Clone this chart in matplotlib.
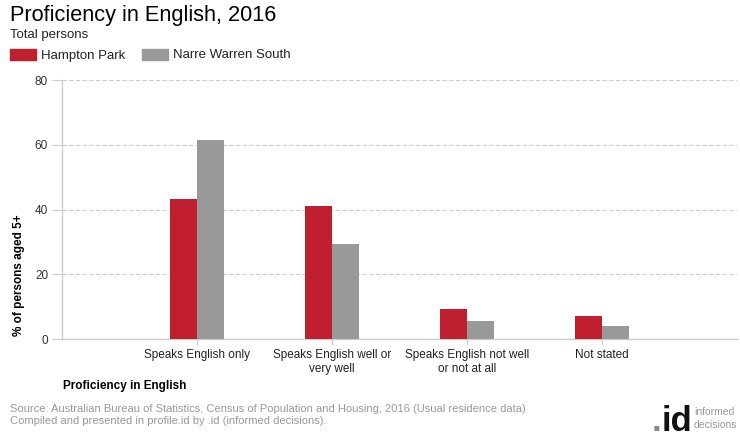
import matplotlib
matplotlib.use("Agg")
import matplotlib.pyplot as plt
import numpy as np

plt.rcParams['font.family'] = ['Liberation Sans', 'DejaVu Sans']

# data
categories = ["Speaks English only", "Speaks English well or\nvery well",
              "Speaks English not well\nor not at all", "Not stated"]
hampton_park = [43.2, 41.1, 9.3, 7.1]
narre_warren_south = [61.5, 29.3, 5.6, 4.0]
series_names = ["Hampton Park", "Narre Warren South"]
yticks = [0, 20, 40, 60, 80]

red = "#c01f30"
grey = "#999999"
axis_col = "#cccccc"

fig = plt.figure(figsize=(7.4, 4.4), dpi=100)
ax = fig.add_axes([62 / 740, 1 - 339 / 440, 675 / 740, 259 / 440])

x = np.arange(1, len(categories) + 1)
w = 0.2
ax.bar(x - w / 2, hampton_park, w, color=red, zorder=3)
ax.bar(x + w / 2, narre_warren_south, w, color=grey, zorder=3)

ax.set_xlim(0, 5)
ax.set_ylim(0, 80)
ax.set_yticks(yticks)
ax.set_xticks(x)
ax.set_xticklabels(categories, fontsize=8.5, color="#222222", linespacing=1.3)
ax.tick_params(axis='y', labelsize=8.5, labelcolor="#333333", color=axis_col, length=7, pad=3)
ax.tick_params(axis='x', color=axis_col, length=4, pad=3)
ax.yaxis.grid(True, color=axis_col, linestyle=(0, (4, 2)), linewidth=0.8, zorder=0)
for s in ['top', 'right']:
    ax.spines[s].set_visible(False)
for s in ['left', 'bottom']:
    ax.spines[s].set_color(axis_col)
    ax.spines[s].set_linewidth(1)

# titles
fig.text(10 / 740, 1 - 21 / 440, "Proficiency in English, 2016", fontsize=15.7,
         va='baseline', color="#000000")
fig.text(10 / 740, 1 - 38 / 440, "Total persons", fontsize=9.5, va='baseline', color="#222222")

# legend
for i, (name, col) in enumerate(zip(series_names, [red, grey])):
    x0 = [10, 142][i]
    fig.patches.append(plt.Rectangle((x0 / 740, 1 - 60 / 440), 26 / 740, 11 / 440,
                                     transform=fig.transFigure, color=col))
    fig.text((x0 + 31) / 740, 1 - 58.5 / 440, name, fontsize=9.5, va='baseline', color="#222222")

# axis labels
fig.text(19 / 740, 1 - 275 / 440, "% of persons aged 5+", rotation=90, fontsize=8.5,
         fontweight='bold', va='center', ha='center')
fig.text(63 / 740, 1 - 386 / 440, "Proficiency in English", fontsize=8.5,
         fontweight='bold', va='center')

# source
fig.text(10 / 740, 1 - 409 / 440,
         "Source: Australian Bureau of Statistics, Census of Population and Housing, 2016 (Usual residence data)",
         fontsize=8, color="#999999", va='center')
fig.text(10 / 740, 1 - 421 / 440,
         "Compiled and presented in profile.id by .id (informed decisions).",
         fontsize=8, color="#999999", va='center')

# logo
fig.text(662 / 740, 1 - 431 / 440, "id", fontsize=25, fontweight='bold', color="#111111",
         ha='left', va='baseline')
fig.text(661 / 740, 1 - 431 / 440, ".", fontsize=25, fontweight='bold', color="#888888",
         ha='right', va='baseline')
fig.text(694 / 740, 1 - 415 / 440, "informed", fontsize=7.5, color="#999999", va='baseline')
fig.text(694 / 740, 1 - 428 / 440, "decisions", fontsize=7.5, color="#999999", va='baseline')

fig.savefig("out.png", dpi=100)
